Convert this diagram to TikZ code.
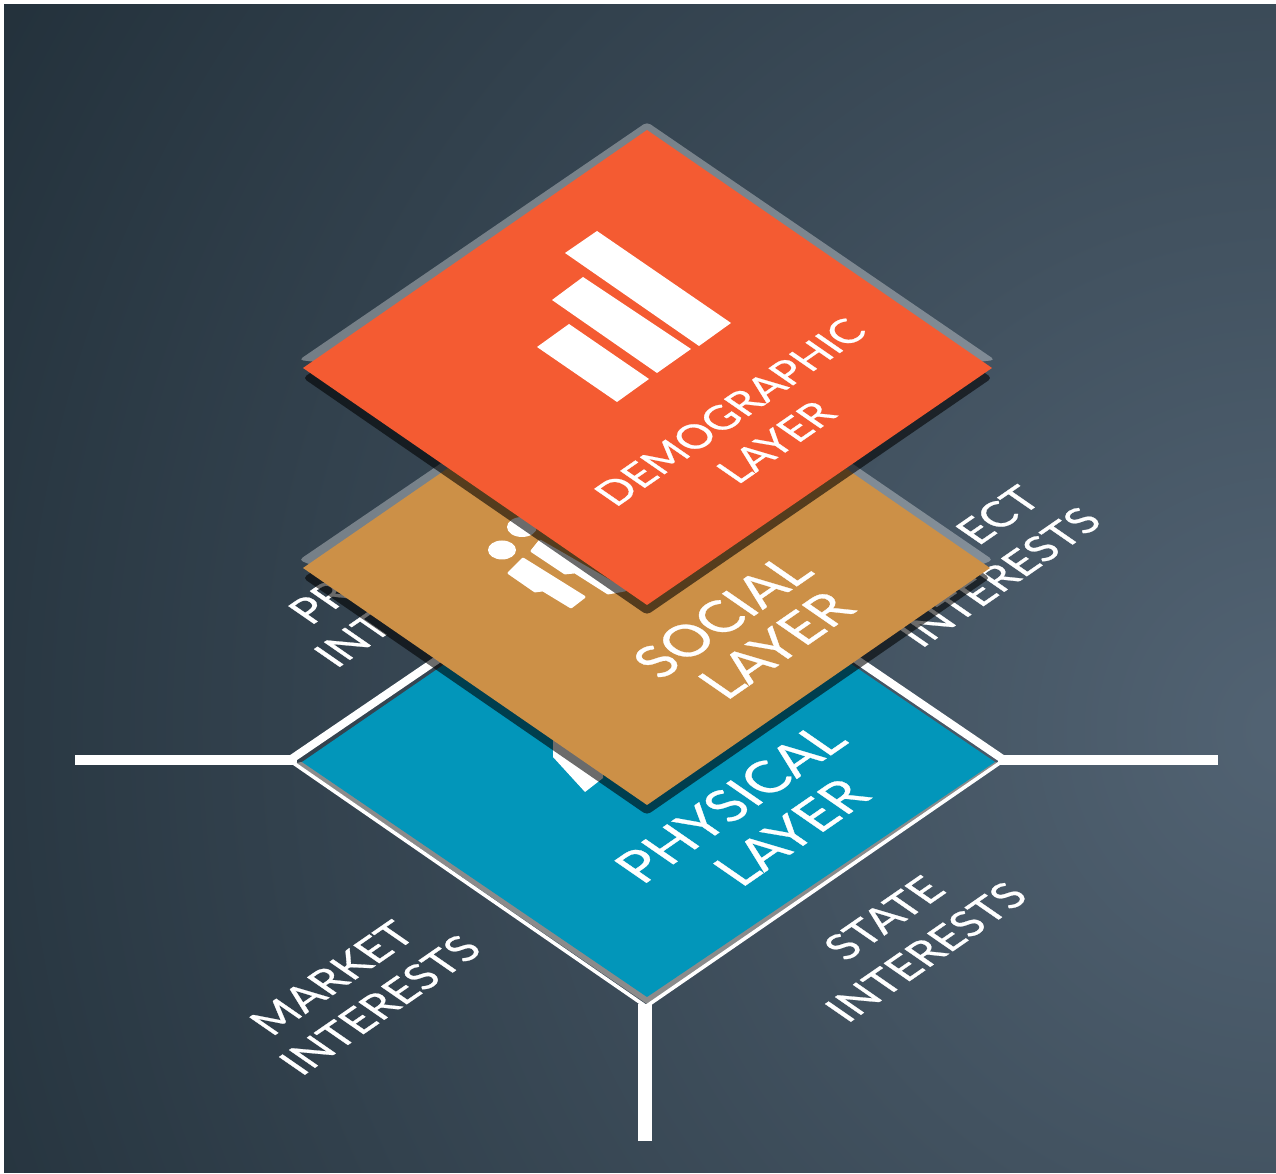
\documentclass[tikz,border=0pt]{standalone}
\usepackage{fontspec}
\setmainfont[FakeBold=0.6]{Lato}
\definecolor{bgdark}{HTML}{22303A}
\definecolor{bglight}{HTML}{526373}
\definecolor{redlayer}{HTML}{F45B32}
\definecolor{orangelayer}{HTML}{CC9047}
\definecolor{bluelayer}{HTML}{0296BA}
\definecolor{rimgrey}{HTML}{8B8B8B}
\tikzset{
  x=0.01cm,y=-0.01cm,
  whiteline/.style={draw=white,line width=#1*0.2845pt,line cap=butt,line join=miter},
  rim/.style={fill=white,fill opacity=.33,rounded corners=1.2pt},
  shadowband/.style={fill=black,fill opacity=.58,rounded corners=1.2pt},
  isotext/.style={transform shape,text=white,align=center,inner sep=0pt,font=#1},
  softwhite/.style={fill=white,draw=white,line width=.8pt,line join=round}
}
\newcommand{\bigfont}{\fontsize{15.4}{18}\selectfont}
\newcommand{\demofont}{\fontsize{11.8}{14}\selectfont}
\newcommand{\smallfont}{\fontsize{12.4}{14}\selectfont}
\newcommand{\isolabel}[5]{%
  \begin{scope}[shift={(#2,#3)},cm={.823,.569,-.823,.569,(0,0)}]
    \node[isotext=#4] (#1) {#5};
  \end{scope}}
\begin{document}
\begin{tikzpicture}
\useasboundingbox (0,0) rectangle (1276,1174);
\fill[white] (0,0) rectangle (1276,1174);
% background
\begin{scope}
  \clip (4,5) rectangle (1276,1172);
  \fill[inner color=bglight,outer color=bgdark] (1290,730) circle (1520);
\end{scope}
% outer labels
\isolabel{market}{332}{978}{\smallfont}{MARKET}
\isolabel{marketi}{380}{1005}{\smallfont}{INTERESTS}
\isolabel{state}{884}{918}{\smallfont}{STATE}
\isolabel{statei}{926}{952}{\smallfont}{INTERESTS}
\isolabel{pr}{320}{602}{\smallfont}{PR}
\isolabel{int}{353}{640}{\smallfont}{INT}
\isolabel{ect}{998}{515}{\smallfont}{ECT}
\isolabel{subi}{1000}{577}{\smallfont}{INTERESTS}
% stems
\coordinate (sl) at (75,760); \coordinate (jl) at (297,760);
\coordinate (sr) at (1218,760); \coordinate (jr) at (998,760);
\coordinate (sb) at (645,1141); \coordinate (jb) at (645,1004);
\draw[whiteline=10] (sl) -- (jl);
\draw[whiteline=10] (sr) -- (jr);
\draw[whiteline=14] (sb) -- (jb);
% physical layer frame
\draw[whiteline=8] (290,760) -- (647,517) -- (1004,760);
\fill[rimgrey] (296,763) -- (647,1004) -- (1000,763) -- (647,700) -- cycle;
\draw[whiteline=3.6] (289,760) -- (646,1006.5) -- (1004,760);
\fill[bluelayer] (302,762) -- (647,525) -- (995,762) -- (647,997) -- cycle;
\isolabel{phys}{730}{803}{\bigfont}{PHYSICAL}
\isolabel{physl}{791}{832}{\bigfont}{LAYER}
% physical icon (mostly hidden)
\fill[white] (553,735) -- (553,757) -- (585,792) -- (603,778) -- (603,770) -- cycle;
% social layer
\path[shadowband] (303,578) -- (647,341) -- (990,578) -- (647,815) -- cycle;
\path[rim] (299,560) -- (647,323) -- (993,560) -- (647,700) -- cycle;
\fill[orangelayer] (303,568) -- (647,331) -- (990,568) -- (647,805) -- cycle;
\isolabel{soc}{722}{616}{\bigfont}{SOCIAL}
\isolabel{socl}{776}{645}{\bigfont}{LAYER}
% social icon
\fill[white] (502,550) ellipse (14 and 9.5);
\fill[white] (522,527) ellipse (15 and 10);
\path[softwhite] (509,573) -- (523,559) -- (584,597) -- (571,607) -- (543,590) -- (535,591) -- cycle;
\path[softwhite] (532,551) -- (540,541) -- (625,590) -- (614,592) -- (608,593) -- (575,572) -- (565,573) -- cycle;
% demographic layer
\path[shadowband] (303,378) -- (647,140) -- (992,378) -- (647,615) -- cycle;
\path[rim] (299,360) -- (647,122) -- (995,360) -- (647,400) -- cycle;
\fill[redlayer] (303,368) -- (647,130) -- (992,368) -- (647,605) -- cycle;
\fill[white] (565,253) -- (597,231) -- (731,323) -- (699,346) -- cycle;
\fill[white] (552,300) -- (583,277) -- (691,349) -- (657,373) -- cycle;
\fill[white] (537,347) -- (569,324) -- (649,379) -- (617,402) -- cycle;
\isolabel{demo}{730}{412}{\demofont}{DEMOGRAPHIC}
\isolabel{demol}{776}{442}{\demofont}{LAYER}
\end{tikzpicture}
\end{document}
